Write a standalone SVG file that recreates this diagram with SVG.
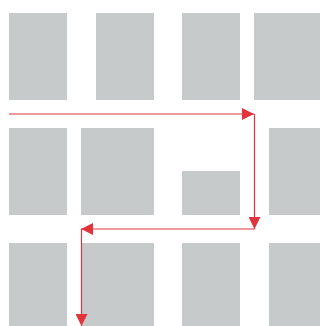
<svg xmlns="http://www.w3.org/2000/svg" width="320" height="326" viewBox="0 0 320 326">
<style>
.b{fill:#c7cacb}
.c{stroke:#e0353d;stroke-width:1.2;fill:none;marker-end:url(#ah)}
</style>
<defs>
<marker id="ah" markerUnits="userSpaceOnUse" markerWidth="13" markerHeight="12" refX="12" refY="6" orient="auto">
<path d="M0,0 L12,6 L0,12 Z" fill="#e0353d"/>
</marker>
</defs>
<rect width="320" height="326" fill="#fff"/>
<g id="r1a"><rect class="b" x="9" y="13" width="58" height="87"/></g>
<g id="r1b"><rect class="b" x="96" y="13" width="58" height="87"/></g>
<g id="r1c"><rect class="b" x="182" y="13" width="58" height="87"/></g>
<g id="r1d"><rect class="b" x="254" y="13" width="66" height="87"/></g>
<g id="r2a"><rect class="b" x="9" y="128" width="58" height="87"/></g>
<g id="r2b"><rect class="b" x="81" y="128" width="73" height="87"/></g>
<g id="r2c"><rect class="b" x="182" y="171" width="58" height="44"/></g>
<g id="r2d"><rect class="b" x="269" y="128" width="51" height="87"/></g>
<g id="r3a"><rect class="b" x="9" y="243" width="58" height="83"/></g>
<g id="r3b"><rect class="b" x="81" y="243" width="73" height="83"/></g>
<g id="r3c"><rect class="b" x="182" y="243" width="58" height="83"/></g>
<g id="r3d"><rect class="b" x="269" y="243" width="51" height="83"/></g>
<g id="connectors">
<path class="c" d="M9,114 H254"/>
<path class="c" d="M254.5,114 V229"/>
<path class="c" d="M254.5,229 H81"/>
<path class="c" d="M81.5,229 V326"/>
</g>
</svg>
